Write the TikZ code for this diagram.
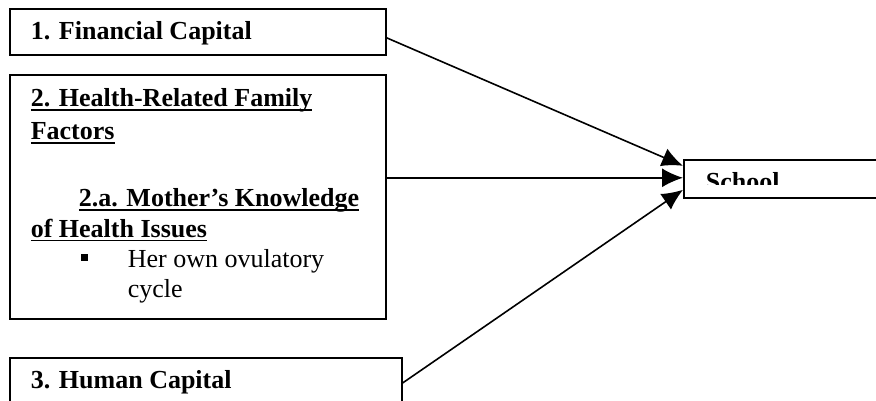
\documentclass[tikz,border=0pt]{standalone}
\usepackage{fontspec}
\setmainfont{Liberation Serif}
\usetikzlibrary{arrows.meta}
\tikzset{>={Latex[length=21pt,width=19pt]},
every picture/.append style={
    line join=miter,
    line width=1.6pt
  }}
\newcommand{\bigtxt}{\fontsize{26}{30}\selectfont}
\newcommand{\undr}[1]{\setbox0\hbox{#1}\rlap{\rule[-4pt]{\wd0}{1.5pt}}\box0}

\begin{document}
\begin{tikzpicture}[x=1pt,y=-1pt,
    box/.style={draw,anchor=north west,inner sep=0pt},
    txt/.style={anchor=base west,inner sep=0pt,font=\bigtxt}]
        \useasboundingbox (0,0) rectangle (876,401);
        % the boxes
        \node [box,minimum width=376pt,minimum height=46pt] (fin) at (9,8) {};
        \node [box,minimum width=376pt,minimum height=244pt] (health) at (9,74) {};
        \node [box,minimum width=392pt,minimum height=80pt] (human) at (9,357) {};
        \node [box,minimum width=220pt,minimum height=38pt] (school) at (683,159) {};

        \node [txt] (fintxt) at (30,40) {\bfseries 1. Financial Capital};
        \node [txt] (healthtxt) at (30,107) {\bfseries\undr{2. Health-Related Family}};
        \node [txt] (factors) at (30,140) {\bfseries\undr{Factors}};
        \node [txt] (mother) at (78,207) {\bfseries\undr{2.a. Mother’s Knowledge}};
        \node [txt] (issues) at (30,237) {\bfseries\undr{of Health Issues}};
        \node [anchor=south west,inner sep=0pt,fill,minimum size=7.5pt] (bullet) at (80,262) {};
        \node [txt] (ovul) at (127,267) {Her own ovulatory};
        \node [txt] (cycle) at (127,297) {cycle};
        \node [txt] (humantxt) at (30,388) {\bfseries 3. Human Capital};

        \begin{scope}
            \clip (684,160) rectangle (876,185);
            \node [txt] (schooltxt) at (705,191) {\bfseries School};
        \end{scope}

        % arrows into school
        \draw [->] ([yshift=-6pt]fin.east) -- ([yshift=13pt]school.west);
        \draw [->] ([yshift=19pt]health.east) -- ([yshift=1pt]school.west);
        \draw [->] ([yshift=-26pt]human.north east) -- ([yshift=-11pt]school.west);
\end{tikzpicture}
\end{document}
